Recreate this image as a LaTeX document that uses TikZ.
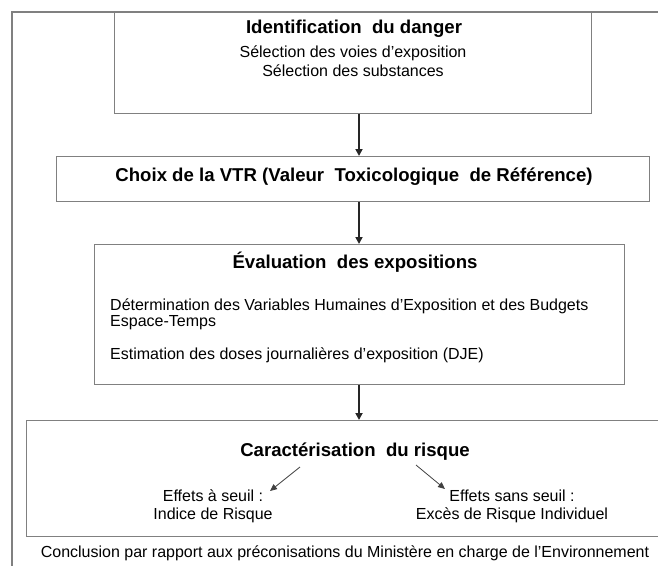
\documentclass[tikz,border=0pt]{standalone}
\usepackage{fontspec}
\setmainfont{Liberation Sans}
\usetikzlibrary{arrows.meta}
\begin{document}
\begin{tikzpicture}[x=1pt,y=-1pt,
  frameline/.style={draw=black!50, line width=1.3pt},
  box/.style={draw=black!50, line width=1.3pt, inner sep=0pt, anchor=north west},
  ttl/.style={font=\bfseries\fontsize{18.6}{20}\selectfont, inner sep=0pt},
  txt/.style={font=\fontsize{16}{18}\selectfont, inner sep=0pt},
  flow/.style={-{Triangle[length=7pt,width=7pt]}, line width=1.7pt, black!85},
  subarrow/.style={-{Triangle[length=7pt,width=6pt]}, line width=0.8pt, black!75}]
\useasboundingbox (0,0) rectangle (658,565);
% outer frame
\coordinate (f1) at (12,570);
\coordinate (f2) at (12,12);
\coordinate (f3) at (665,12);
\draw[frameline] (f1) -- (f2) -- (f3);
% boxes
\node[box, minimum width=477pt, minimum height=101pt] (b1) at (114,12) {};
\node[box, minimum width=593pt, minimum height=45pt] (b2) at (56,156) {};
\node[box, minimum width=530pt, minimum height=140pt] (b3) at (94,244) {};
\node[box, minimum width=650pt, minimum height=116pt] (b4) at (26,420) {};
% flow arrows
\coordinate (ax) at (359,0);
\draw[flow] (b1.south -| ax) -- (b2.north -| ax);
\draw[flow] (b2.south -| ax) -- (b3.north -| ax);
\draw[flow] (b3.south -| ax) -- (b4.north -| ax);
% box 1 texts
\node[ttl] (t1) at (354,29) {Identification\ \ du danger};
\node[txt] (t1a) at (353,53) {Sélection des voies d'exposition};
\node[txt] (t1b) at (353,71) {Sélection des substances};
% box 2
\node[ttl] (t2) at (354,177) {Choix de la VTR (Valeur\ \ Toxicologique\ \ de Référence)};
% box 3
\node[ttl] (t3) at (355,262) {Évaluation\ \ des expositions};
\node[txt, anchor=west] (t3a) at (110,306) {Détermination des Variables Humaines d'Exposition et des Budgets};
\node[txt, anchor=west] (t3b) at (110,323) {Espace-Temps};
\node[txt, anchor=west] (t3c) at (110,355) {Estimation des doses journalières d'exposition (DJE)};
% box 4
\node[ttl] (t4) at (355,452) {Caractérisation\ \ du risque};
\node[txt, align=center] (e1) at (213,506) {Effets à seuil :\\Indice de Risque};
\node[txt, align=center] (e2) at (512,506) {Effets sans seuil :\\Excès de Risque Individuel};
\coordinate (s1) at (300,467);
\coordinate (d1) at (270,491);
\coordinate (s2) at (416,465);
\coordinate (d2) at (445,489);
\draw[subarrow] (s1) -- (d1);
\draw[subarrow] (s2) -- (d2);
% conclusion
\node[txt] (c) at (345,553) {Conclusion par rapport aux préconisations du Ministère en charge de l'Environnement};
\end{tikzpicture}
\end{document}
